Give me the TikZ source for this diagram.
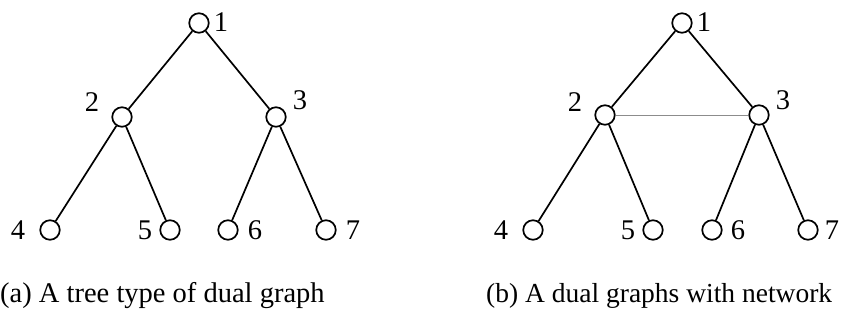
\documentclass[tikz,border=0pt]{standalone}
\usepackage{fontspec}
\setmainfont{Liberation Serif}
\begin{document}
\begin{tikzpicture}[x=1pt,y=-1pt,
  vtx/.style={circle,draw,line width=1.7pt,minimum size=19.5pt,inner sep=0pt},
  lbl/.style={inner sep=0pt,font=\fontsize{28.5}{32}\selectfont},
  edge/.style={line width=1.7pt}]
\useasboundingbox (0,0) rectangle (843,322);
% (a)
\node[vtx] (a1) at (199,23) {};
\node[vtx] (a2) at (122,117) {};
\node[vtx] (a3) at (276,117) {};
\node[vtx] (a4) at (50,230) {};
\node[vtx] (a5) at (170,230) {};
\node[vtx] (a6) at (228,230) {};
\node[vtx] (a7) at (326,230) {};
\draw[edge] (a1) -- (a2);
\draw[edge] (a1) -- (a3);
\draw[edge] (a2) -- (a4);
\draw[edge] (a2) -- (a5);
\draw[edge] (a3) -- (a6);
\draw[edge] (a3) -- (a7);
\node[lbl] (la1) at (221,22) {1};
\node[lbl] (la2) at (92,102) {2};
\node[lbl] (la3) at (300,100) {3};
\node[lbl] (la4) at (18,230) {4};
\node[lbl] (la5) at (145,230) {5};
\node[lbl] (la6) at (255,230) {6};
\node[lbl] (la7) at (353,230) {7};
\node[lbl,anchor=west] (capa) at (0,296) {(a) A tree type of dual graph};
% (b)
\node[vtx] (b1) at (682,23) {};
\node[vtx] (b2) at (605,115) {};
\node[vtx] (b3) at (759,115) {};
\node[vtx] (b4) at (533,230) {};
\node[vtx] (b5) at (653,230) {};
\node[vtx] (b6) at (712,230) {};
\node[vtx] (b7) at (808,230) {};
\draw[edge] (b1) -- (b2);
\draw[edge] (b1) -- (b3);
\draw[edge] (b2) -- (b4);
\draw[edge] (b2) -- (b5);
\draw[edge] (b3) -- (b6);
\draw[edge] (b3) -- (b7);
\draw[line width=0.7pt,black!45] (b2) -- (b3);
\node[lbl] (lb1) at (704,22) {1};
\node[lbl] (lb2) at (575,102) {2};
\node[lbl] (lb3) at (783,100) {3};
\node[lbl] (lb4) at (501,230) {4};
\node[lbl] (lb5) at (628,230) {5};
\node[lbl] (lb6) at (738,230) {6};
\node[lbl] (lb7) at (832,230) {7};
\node[lbl,anchor=west,font=\fontsize{27.5}{32}\selectfont] (capb) at (486,296) {(b) A dual graphs with network};
\end{tikzpicture}
\end{document}
